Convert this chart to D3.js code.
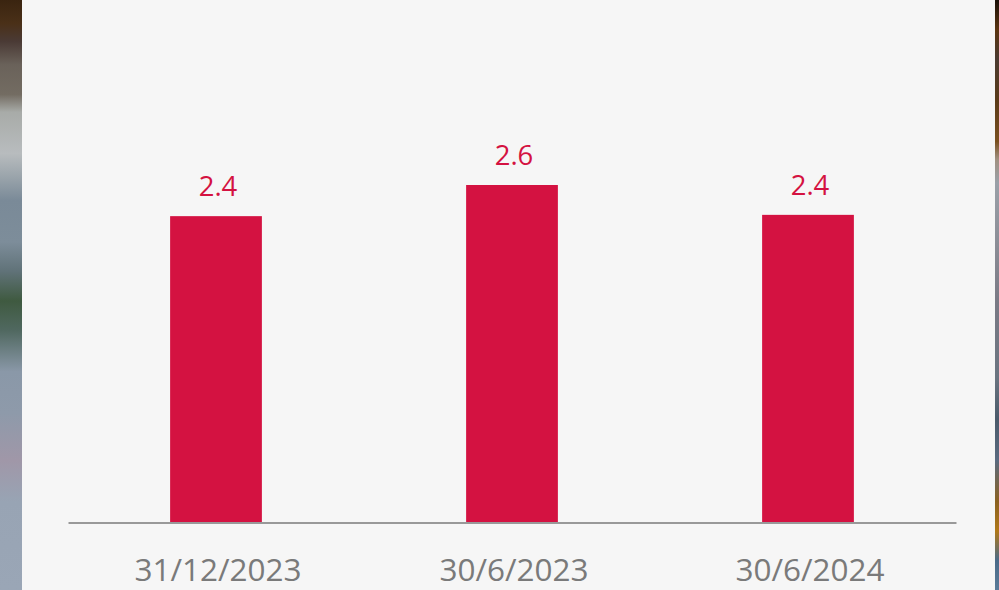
<!DOCTYPE html>
<html>
<head>
<meta charset="utf-8">
<script src="https://cdn.jsdelivr.net/npm/d3@7"></script>
<style>
  html, body { margin: 0; padding: 0; background: #f6f6f6; }
  svg { display: block; }
</style>
</head>
<body>
<div id="chart"></div>
<script>
const categories = ["31/12/2023", "30/6/2023", "30/6/2024"];
const values = [2.36, 2.6, 2.37];
const valueLabels = ["2.4", "2.6", "2.4"];

// blurred photo strips at the edges (offset, colour)
const leftStrip = [[0, "#3a2410"], [0.04, "#4a3018"], [0.07, "#4a3a35"], [0.11, "#6a625a"], [0.16, "#736c62"],
  [0.19, "#a8aba8"], [0.26, "#b8bcbe"], [0.3, "#9aa4ab"], [0.34, "#7a8a98"], [0.41, "#7d8d9a"],
  [0.46, "#607278"], [0.51, "#3f5a40"], [0.56, "#506860"], [0.63, "#8a98a8"], [0.7, "#8e9aaa"],
  [0.78, "#a097a8"], [0.85, "#98a4b4"], [1, "#9aa6b6"]];
const rightStrip = [[0, "#1a1008"], [0.05, "#5a3410"], [0.1, "#4a3a30"], [0.17, "#5a3a18"], [0.24, "#7a5020"],
  [0.27, "#a09080"], [0.31, "#9aa0a8"], [0.42, "#8a8c95"], [0.51, "#7a7a85"], [0.64, "#6a7480"],
  [0.71, "#4a5a6a"], [0.78, "#5a6a80"], [0.85, "#8a6020"], [0.9, "#b07818"], [0.95, "#4a6a88"], [1, "#5a7a98"]];

const W = 999, H = 590;
const margin = ({top: 0, left: 68, right: 43, bottom: 67});
const baseY = H - margin.bottom - 0.5;

const svg = d3.select("#chart")
  .append("svg")
  .attr("width", W)
  .attr("height", H);

const defs = svg.append("defs");
function strip(id, stops){
  const g = defs.append("linearGradient")
    .attr("id", id)
    .attr("x1", 0).attr("y1", 0).attr("x2", 0).attr("y2", 1);
  stops.forEach(s => g.append("stop").attr("offset", s[0]).attr("stop-color", s[1]));
}
strip("leftStrip", leftStrip);
strip("rightStrip", rightStrip);

svg.append("rect").attr("width", W).attr("height", H).attr("fill", "#f6f6f6");
svg.append("rect").attr("x", 0).attr("y", 0).attr("width", 22).attr("height", H).attr("fill", "url(#leftStrip)");
svg.append("rect").attr("x", 995).attr("y", 0).attr("width", 4).attr("height", H).attr("fill", "url(#rightStrip)");

const xScale = d3.scaleBand()
  .domain(categories)
  .range([margin.left, W - margin.right])
  .paddingInner(0.69)
  .paddingOuter(0.345);

const yScale = d3.scaleLinear()
  .domain([0, 2.6])
  .range([baseY, 185]);

svg.selectAll(".bar")
  .data(values)
  .join("rect")
  .attr("class", "bar")
  .attr("x", (d, i) => xScale(categories[i]))
  .attr("y", d => yScale(d))
  .attr("width", xScale.bandwidth())
  .attr("height", d => baseY - yScale(d))
  .attr("fill", "#d41241");

svg.selectAll(".val")
  .data(values)
  .join("text")
  .attr("class", "val")
  .attr("x", (d, i) => xScale(categories[i]) + xScale.bandwidth() / 2 + 2)
  .attr("y", d => yScale(d) - 20)
  .attr("text-anchor", "middle")
  .attr("fill", "#d41241")
  .style("font-family", "'Open Sans', sans-serif")
  .style("font-size", "27.5px")
  .text((d, i) => valueLabels[i]);

const xAxis = d3.axisBottom(xScale).tickSize(0).tickPadding(36);
const gx = svg.append("g")
  .attr("class", "x-axis")
  .attr("transform", `translate(0, ${baseY})`)
  .call(xAxis);
gx.select(".domain").attr("stroke", "#999").attr("stroke-width", 2);
gx.selectAll("text")
  .attr("dx", 2)
  .attr("fill", "#7a7a7a")
  .style("font-family", "'Open Sans', sans-serif")
  .style("font-size", "31.5px");
</script>
</body>
</html>
